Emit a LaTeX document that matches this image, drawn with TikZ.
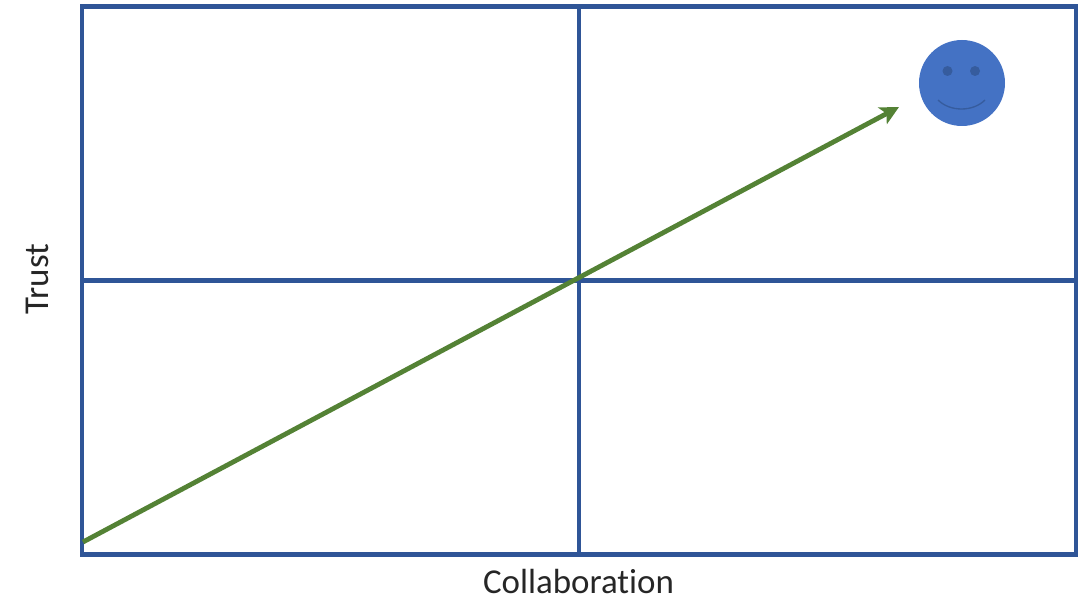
\documentclass[tikz,border=0pt]{standalone}
\usepackage{fontspec}
\setmainfont[Ligatures=NoCommon]{Carlito}
\usepackage{xcolor}
\usetikzlibrary{arrows.meta,calc}
\definecolor{framecol}{HTML}{2F5597}
\definecolor{trendcol}{HTML}{548235}
\definecolor{facecol}{HTML}{4472C4}
\definecolor{markcol}{HTML}{365C9E}

\begin{document}
\begin{tikzpicture}[
    x=0.75pt, y=-0.75pt,
    quadrant/.style={draw=framecol, line width=3.4pt, minimum width=745.5pt, minimum height=411pt, inner sep=0pt, outer sep=0pt},
    divider/.style={draw=framecol, line width=3.4pt},
    trend/.style={draw=trendcol, line width=3.6pt, -{Stealth[length=14pt, width=14pt, inset=3.5pt]}},
    face/.style={circle, fill=facecol, minimum size=64.5pt, inner sep=0pt},
    eye/.style={circle, fill=markcol, minimum size=7.5pt, inner sep=0pt},
    axislabel/.style={font=\fontsize{26.2}{28}\selectfont, text=black!85, inner sep=0pt},
  ]
  \useasboundingbox (0,0) rectangle (1089,599);

  % Frame and quadrants
  \node[quadrant] (frame) at (579,280.7) {};
  \draw[divider] (frame.north) -- (frame.south);
  \draw[divider] (frame.west) -- (frame.east);

  % Smiley
  \node[face] (smiley) at (962,83) {};
  \node[eye] (lefteye) at (947.5,71) {};
  \node[eye] (righteye) at (975,71) {};
  \coordinate (smilea) at (938,100);
  \coordinate (smileb) at (985,100);
  \draw[markcol, line width=1pt] (smilea) .. controls (950,112) and (973,112) .. (smileb);

  % Trend
  \coordinate (start) at (83,542);
  \coordinate (tip) at (899,107);
  \draw[trend] (start) -- (tip);

  % Axis labels
  \node[axislabel] (xlabel) at (578.5,581) {Collaboration};
  \node[axislabel, rotate=90] (ylabel) at (37,279) {Trust};
\end{tikzpicture}
\end{document}
